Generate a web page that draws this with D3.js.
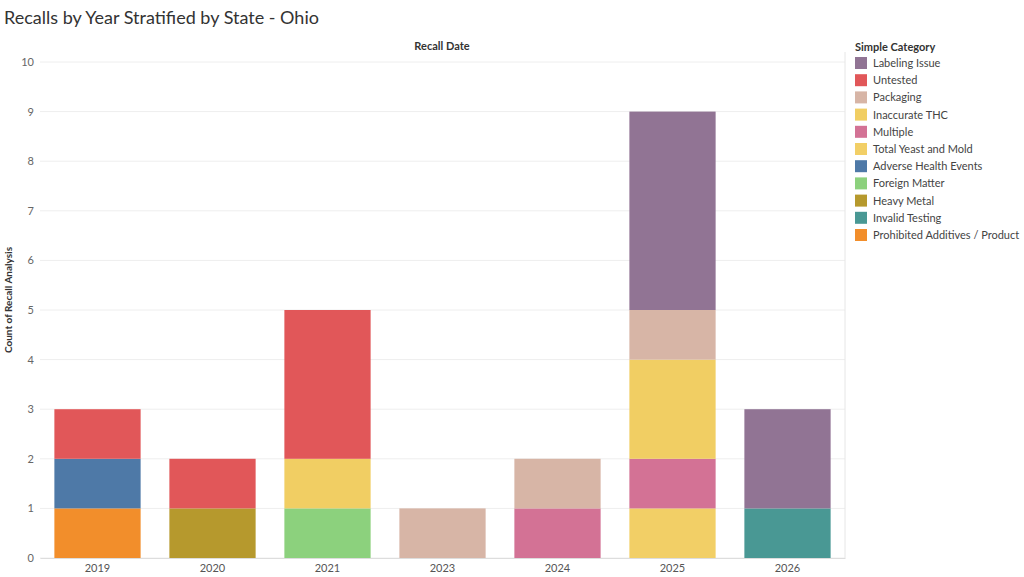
<!DOCTYPE html>
<html><head><meta charset="utf-8">
<script src="https://cdn.jsdelivr.net/npm/d3@7"></script>
<style>body{margin:0;background:#fff;font-family:Lato,"Open Sans",sans-serif}</style>
</head><body><div id="chart"></div>
<script>
var years = ["2019","2020","2021","2023","2024","2025","2026"];
var categories = ["Labeling Issue","Untested","Packaging","Inaccurate THC","Multiple","Total Yeast and Mold","Adverse Health Events","Foreign Matter","Heavy Metal","Invalid Testing","Prohibited Additives / Product"];
var colors = ["#917494","#e15759","#d7b5a6","#f1ce63","#d37295","#f2cf66","#4e79a7","#8cd17d","#b6992d","#499894","#f28e2b"];
// counts per year, same order as categories
var counts = {
  "2019": [0,1,0,0,0,0,1,0,0,0,1],
  "2020": [0,1,0,0,0,0,0,0,1,0,0],
  "2021": [0,3,0,1,0,0,0,1,0,0,0],
  "2023": [0,0,1,0,0,0,0,0,0,0,0],
  "2024": [0,0,1,0,1,0,0,0,0,0,0],
  "2025": [4,0,1,2,1,1,0,0,0,0,0],
  "2026": [2,0,0,0,0,0,0,0,0,1,0]
};
var yTicks = [0,1,2,3,4,5,6,7,8,9,10];

var W = 1024, H = 577;
var svg = d3.select("#chart").append("svg").attr("width",W).attr("height",H);

svg.append("text").attr("x",4).attr("y",24).attr("font-size",18).attr("fill","#333").text("Recalls by Year Stratified by State - Ohio");

var x = d3.scaleBand().domain(years).range([40,845]).paddingInner(0.25).paddingOuter(0.125);
var y = d3.scaleLinear().domain([0,10]).range([558,62]);

svg.append("g").selectAll("line").data(yTicks).enter().append("line")
  .attr("x1",40).attr("x2",845).attr("y1",d=>y(d)).attr("y2",d=>y(d))
  .attr("stroke","#eee");

var rows = years.map(function(yr){ var o={year:yr}; categories.forEach((c,i)=>o[c]=counts[yr][i]); return o; });
var stack = d3.stack().keys(categories.slice().reverse());
var series = stack(rows);

svg.append("g").selectAll("g").data(series).enter().append("g")
  .attr("fill", d=>colors[categories.indexOf(d.key)])
  .selectAll("rect").data(d=>d).enter().append("rect")
  .attr("x", d=>x(d.data.year)).attr("width", x.bandwidth())
  .attr("y", d=>y(d[1])).attr("height", d=>y(d[0])-y(d[1]));

var yAxis = svg.append("g").attr("transform","translate(40,0)")
  .call(d3.axisLeft(y).tickValues(yTicks).tickSize(0).tickPadding(6));
yAxis.select(".domain").remove();
yAxis.selectAll("text").attr("font-size",11).attr("fill","#666").attr("font-family","Lato,sans-serif");

var xAxis = svg.append("g").attr("transform","translate(0,558)")
  .call(d3.axisBottom(x).tickSize(0).tickPadding(6));
xAxis.select(".domain").attr("stroke","#ddd");
xAxis.selectAll("text").attr("font-size",11).attr("fill","#555").attr("font-family","Lato,sans-serif");

svg.append("line").attr("x1",845).attr("x2",845).attr("y1",52).attr("y2",558).attr("stroke","#e6e6e6");

svg.append("text").attr("x",442).attr("y",50).attr("text-anchor","middle").attr("font-size",11).attr("font-weight","bold").attr("fill","#333").text("Recall Date");
svg.append("text").attr("transform","translate(12,300) rotate(-90)").attr("text-anchor","middle").attr("font-size",10).attr("font-weight","bold").attr("fill","#333").text("Count of Recall Analysis");

var leg = svg.append("g").attr("transform","translate(855,0)");
leg.append("text").attr("x",0).attr("y",51).attr("font-size",11).attr("font-weight","bold").attr("fill","#333").text("Simple Category");
var items = leg.selectAll("g.item").data(categories).enter().append("g")
  .attr("transform",(d,i)=>"translate(0,"+(57+i*17.2)+")");
items.append("rect").attr("width",12).attr("height",12).attr("fill",(d,i)=>colors[i]);
items.append("text").attr("x",18).attr("y",10).attr("font-size",11).attr("fill","#444").text(d=>d);
</script></body></html>
